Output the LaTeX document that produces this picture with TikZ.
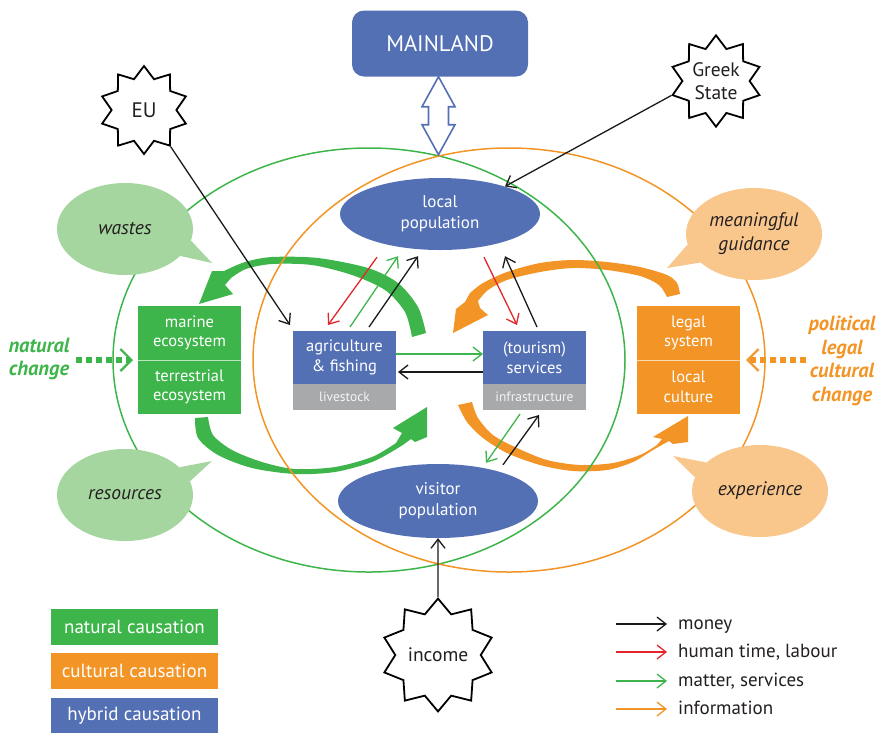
\documentclass[tikz,border=0pt]{standalone}
\usepackage{fontspec}
\setmainfont{PT Sans}
\usetikzlibrary{arrows.meta,positioning,shapes.geometric}
\definecolor{hybridblue}{HTML}{5470B5}
\definecolor{naturegreen}{HTML}{3DB54A}
\definecolor{cultureorange}{HTML}{F39426}
\definecolor{natureshade}{HTML}{A6D6A0}
\definecolor{cultureshade}{HTML}{F9C68C}
\definecolor{stockgrey}{HTML}{A8A9AB}
\definecolor{labourred}{HTML}{E3262B}
\definecolor{flowink}{HTML}{1A1A1A}
\definecolor{bubbleink}{HTML}{231F20}
\tikzset{
  sector box/.style={
    rectangle, fill=hybridblue, text=white, minimum width=103pt,
    minimum height=53pt, inner sep=0pt, outer sep=0pt, align=center,
    font=\fontsize{16.5}{19.5}\selectfont
  },
  stock box/.style={
    sector box, fill=stockgrey, text=white!88!stockgrey,
    minimum height=26pt, font=\fontsize{13.5}{15}\selectfont
  },
  system box/.style={sector box, minimum height=54pt},
  divider/.style={line width=1pt},
  population/.style={
    ellipse, fill=hybridblue, text=white, minimum width=200pt,
    minimum height=72pt, inner sep=0pt, align=center,
    font=\fontsize{17}{21}\selectfont
  },
  bubble/.style={
    ellipse, minimum width=136pt, minimum height=92pt, inner sep=0pt,
    align=center, text=bubbleink, font=\fontsize{19.5}{24}\selectfont\itshape
  },
  outside force/.style={
    star, star points=10, star point ratio=1.36, draw=black, fill=white,
    line width=1.8pt, inner sep=0pt, align=center, text=bubbleink,
    font=\fontsize{19.5}{23}\selectfont
  },
  ring/.style={line width=1.5pt},
  flow/.style={
    line width=1.3pt,
    -{Straight Barb[length=9pt,width=14pt]}
  },
  change arrow/.style={
    line width=6pt, dash pattern=on 6pt off 4pt,
    -{Straight Barb[length=11pt,width=22pt,line width=2.2pt]}
  },
  change label/.style={
    align=center, inner sep=0pt,
    font=\fontsize{20.5}{23.5}\selectfont\bfseries\itshape
  },
  legend box/.style={
    rectangle, minimum width=167pt, minimum height=36pt, inner sep=0pt,
    text=white, font=\fontsize{19}{22}\selectfont
  },
  legend text/.style={
    anchor=west, inner sep=0pt, text=bubbleink, text height=13.5pt,
    text depth=3.5pt, font=\fontsize{19}{22}\selectfont
  }
}

\begin{document}
\begin{tikzpicture}[x=1pt,y=-1pt]
  \useasboundingbox (0,0) rectangle (882,732);

  % Broad feedback loops, thick at the source and thin towards the head.
  \fill[naturegreen]
    plot[smooth] coordinates {(426,333) (418,307) (398,283) (368,268) (318,258) (272,257) (245,262) (224,271)}
    -- (212,271) -- (199,304) -- (233,294) -- (225,285)
    -- plot[smooth] coordinates {(231,278) (246,269) (272,264) (312,265) (352,275) (385,290) (405,312) (412,337)}
    -- cycle;
  \fill[naturegreen]
    plot[smooth] coordinates {(195,418) (198,438) (218,455) (252,468) (295,474) (335,472) (372,462) (398,448) (411,439)}
    -- (415,442) -- (427,437) -- (427,407) -- (393,428) -- (402,433)
    -- plot[smooth] coordinates {(396,443) (372,457) (335,467) (295,469) (262,462) (232,450) (213,435) (208,417)}
    -- cycle;
  \fill[cultureorange]
    plot[smooth] coordinates {(680,294) (677,283) (667,275) (640,267) (607,262) (573,260) (540,263) (507,272) (483,283) (470,293)}
    -- (465,302) -- (456,309) -- (453,333) -- (488,315) -- (480,308)
    -- plot[smooth] coordinates {(478,301) (488,290) (507,280) (540,272) (573,268) (607,270) (640,276) (659,285) (667,297)}
    -- cycle;
  \fill[cultureorange]
    plot[smooth] coordinates {(458,405) (467,422) (483,438) (507,453) (540,465) (573,471) (607,470) (633,462) (653,450) (669,441)}
    -- (673,444) -- (688,442) -- (688,416) -- (653,437) -- (662,439)
    -- plot[smooth] coordinates {(657,445) (640,455) (613,463) (580,465) (547,460) (517,448) (493,435) (478,418) (472,402)}
    -- cycle;

  % The two overlapping spheres.
  \draw[ring, naturegreen] (369,360) ellipse [x radius=256pt, y radius=212pt];
  \draw[ring, cultureorange] (509,360) ellipse [x radius=256pt, y radius=212pt];

  % Speech bubbles and their tails.
  \node[bubble, fill=natureshade] (wastes) at (125,229) {wastes};
  \fill[natureshade] (wastes.-10) -- (212,263) -- (wastes.-26) -- cycle;
  \node[bubble, fill=natureshade] (resources) at (125,495) {resources};
  \fill[natureshade] (resources.12) -- (212,461) -- (resources.27) -- cycle;
  \node[bubble, fill=cultureshade] (guidance) at (754,234) {meaningful\\guidance};
  \fill[cultureshade] (guidance.189) -- (667,268) -- (guidance.208) -- cycle;
  \node[bubble, fill=cultureshade] (experience) at (760,491) {experience};
  \fill[cultureshade] (experience.152) -- (673,456) -- (experience.168) -- cycle;

  % Mainland and the outside drivers.
  \node[rectangle, rounded corners=12pt, fill=hybridblue, text=white,
        minimum width=176pt, minimum height=66pt,
        font=\fontsize{22.5}{26}\selectfont] (mainland) at (440,43.5) {MAINLAND};
  \draw[hybridblue, fill=white, line width=1.6pt]
    ([xshift=-1.5pt]mainland.south) -- ++(16.5,30) -- ++(-6.5,0) -- ++(0,18)
    -- ++(6.5,0) -- ++(-16.5,30) -- ++(-16.5,-30) -- ++(6.5,0) -- ++(0,-18)
    -- ++(-6.5,0) -- cycle;
  \node[outside force, minimum size=88pt, font=\fontsize{21}{24}\selectfont] (eu) at (144,110) {EU};
  \node[outside force, minimum size=88pt] (greek) at (716,81) {Greek\\State};
  \node[outside force, minimum size=108pt, star point ratio=1.32] (income) at (438,655) {income};

  % Populations and sectors.
  \node[population] (localpop) at (440,214) {local\\population};
  \node[population, minimum height=74pt] (visitor) at (438,501) {visitor\\population};
  \node[sector box] (agri) at (344.5,357.5) {agriculture\\\& fishing};
  \node[stock box, below=0pt of agri] (livestock) {livestock};
  \node[sector box] (services) at (534.5,357.5) {(tourism)\\services};
  \node[stock box, below=0pt of services] (infra) {infrastructure};

  % Natural and cultural systems.
  \node[system box, fill=naturegreen] (marine) at (189.5,333) {marine\\ecosystem};
  \node[system box, fill=naturegreen, below=0pt of marine] (terrestrial) {terrestrial\\ecosystem};
  \draw[divider, naturegreen!35!white] (marine.south west) -- (marine.south east);
  \node[system box, fill=cultureorange] (legal) at (688.5,333) {legal\\system};
  \node[system box, fill=cultureorange, below=0pt of legal] (culture) {local\\culture};
  \draw[divider, cultureorange!35!white] (legal.south west) -- (legal.south east);

  % External change pushing on the systems.
  \node[change label, text=naturegreen] (natchange) at (39,359) {natural\\change};
  \node[change label, text=cultureorange] (polchange) at (842,361) {political\\legal\\cultural\\change};
  \draw[change arrow, naturegreen, shorten <=6pt, shorten >=5pt]
    (natchange.east |- marine.south west) -- (marine.south west);
  \draw[change arrow, cultureorange, shorten <=2pt, shorten >=6pt]
    (polchange.west |- legal.south east) -- (legal.south east);

  % Flows between the population and the sectors.
  \draw[flow, labourred] ([xshift=-63pt,yshift=-7pt]localpop.south) -- ([xshift=-16.5pt,yshift=6pt]agri.north);
  \draw[flow, naturegreen] ([xshift=5.5pt,yshift=4pt]agri.north) -- ([xshift=-42pt,yshift=-6pt]localpop.south);
  \draw[flow, flowink] ([xshift=24.5pt,yshift=4pt]agri.north) -- ([xshift=-22pt,yshift=-6pt]localpop.south);
  \draw[flow, labourred] ([xshift=44pt,yshift=-7pt]localpop.south) -- ([xshift=-17.5pt,yshift=6pt]services.north);
  \draw[flow, flowink] ([xshift=2.5pt,yshift=4pt]services.north) -- ([xshift=65pt,yshift=-6pt]localpop.south);
  \draw[flow, naturegreen] ([yshift=3.5pt]agri.east) -- ([yshift=3.5pt]services.west);
  \draw[flow, flowink] ([yshift=-14.5pt]services.west) -- ([xshift=2pt,yshift=-14.5pt]agri.east);
  \draw[flow, naturegreen] ([xshift=-14.5pt,yshift=-4pt]infra.south) -- ([xshift=48pt,yshift=1pt]visitor.north);
  \draw[flow, flowink] ([xshift=65pt,yshift=-1pt]visitor.north) -- ([xshift=4.5pt,yshift=-5pt]infra.south);

  % Money coming in from outside.
  \draw[flow, flowink] (eu.-54) -- ([xshift=-3pt,yshift=6pt]agri.north west);
  \draw[flow, flowink] (greek.198) -- (localpop.23);
  \draw[flow, flowink] (income.north) -- (visitor.south);

  % Legend.
  \node[legend box, fill=naturegreen] (lgnatural) at (134.5,627) {natural causation};
  \node[legend box, fill=cultureorange] (lgcultural) at (134.5,671) {cultural causation};
  \node[legend box, fill=hybridblue] (lghybrid) at (134.5,716) {hybrid causation};
  \node[legend text] (lgmoney) at (678,624) {money};
  \node[legend text] (lglabour) at (678,652) {human time, labour};
  \node[legend text] (lgmatter) at (678,681) {matter, services};
  \node[legend text] (lginfo) at (678,709) {information};
  \foreach \flowname/\flowcol in {lgmoney/flowink, lglabour/labourred, lgmatter/naturegreen, lginfo/cultureorange}
    \draw[flow, \flowcol] ([xshift=-62pt]\flowname.west) -- ([xshift=-11pt]\flowname.west);
\end{tikzpicture}
\end{document}
